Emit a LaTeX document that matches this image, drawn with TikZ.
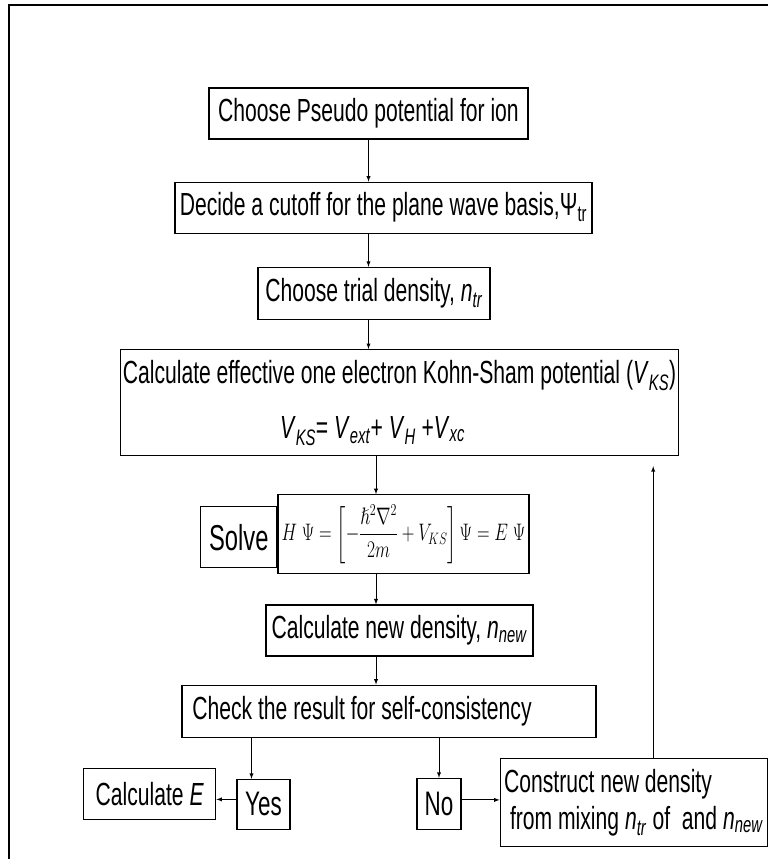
\documentclass[tikz,border=0pt]{standalone}
\usepackage{amsmath}
\usepackage{amssymb}
\usepackage{graphicx}
\usepackage{fontspec}
\setmainfont{Liberation Sans}[FakeStretch=0.66]
\usepackage{tikz}
\usetikzlibrary{arrows, positioning, calc}
\tikzstyle{arrow} = [->,>=latex, line width=0.9pt]
\tikzstyle{process} = [rectangle, minimum height=51pt, text centered, draw=black, line width=1.2pt, inner sep=2pt, font=\fontsize{32}{37}\selectfont]
\tikzstyle{answer} = [process, font=\fontsize{34}{38}\selectfont]
\newcommand{\ksv}[2]{\textit{#1}\textsubscript{\textit{#2}}}

\begin{document}
\begin{tikzpicture}
    \useasboundingbox (0pt,0pt) rectangle (768pt,-859pt);
    % Marco
    \draw [line width=1.2pt] (9pt,-859pt) -- (9pt,-5pt) -- (768pt,-5pt);

    % Pasos
    \node (choose) [process, minimum width=319pt] at (368.5pt,-113.5pt) {Choose Pseudo potential for ion};
    \node (cutoff) [process, minimum width=417pt, below=42pt of choose, xshift=15pt] {Decide a cutoff for the plane wave basis,Ψ\textsubscript{tr}};
    \node (trial) [process, minimum width=232pt, minimum height=52pt, below=33pt of cutoff, xshift=-9.5pt] {Choose trial density, \ksv{n}{tr}};
    \node (ks) [process, minimum width=557pt, minimum height=106pt, align=center, below=29pt of trial, xshift=25.5pt] {Calculate effective one electron Kohn-Sham potential (\ksv{V}{KS})\\[18pt] \ksv{V}{KS}= \ksv{V}{ext}+ \ksv{V}{H} +\ksv{V}{xc}\hspace*{54pt}};
    \node (eq) [process, minimum width=251pt, minimum height=79pt, inner sep=1pt, below=38pt of ks, xshift=4pt, font=\fontsize{20.74}{25}\selectfont] {\scalebox{0.84}[1.15]{$H\;\Psi = \left[-\dfrac{\hslash^2\nabla^2}{2m}+V_{KS}\right]\Psi = E\;\Psi$}};
    \node (solve) [process, minimum width=76pt, minimum height=61pt, left=0pt of eq, yshift=-3pt, font=\fontsize{36}{40}\selectfont] {Solve};
    \node (newden) [process, minimum width=267pt, below=30pt of eq, xshift=-4pt] {Calculate new density, \ksv{n}{new}};
    \node (check) [process, minimum width=414pt, minimum height=52pt, below=28pt of newden, xshift=-10.5pt] {Check the result for self-consistency\hspace*{54pt}};

    % Salidas
    \node (yes) [answer, minimum width=53pt, minimum height=50pt, below=41pt of check, xshift=-125.5pt] {Yes};
    \node (no) [answer, minimum width=44pt, below=40pt of check, xshift=50pt] {No};
    \node (energy) [process, minimum width=132pt, left=20pt of yes, yshift=10.5pt] {Calculate \textit{E}};
    \node (mix) [process, minimum width=267pt, minimum height=88pt, align=left, right=38pt of no, yshift=1.5pt] {Construct new density\\ \ from mixing \ksv{n}{tr} of \ and \ksv{n}{new}};

    % Flechas
    \coordinate (spine) at ([xshift=7.5pt]choose.south);
    \draw [arrow] (choose.south) -- (choose.south |- cutoff.north);
    \draw [arrow] (choose.south |- cutoff.south) -- (choose.south |- trial.north);
    \draw [arrow] (choose.south |- trial.south) -- (choose.south |- ks.north);
    \draw [arrow] (spine |- ks.south) -- (spine |- eq.north);
    \draw [arrow] (spine |- eq.south) -- (spine |- newden.north);
    \draw [arrow] (spine |- newden.south) -- (spine |- check.north);
    \coordinate (yestop) at ([xshift=-12pt]yes.north);
    \draw [arrow] (yestop |- check.south) -- (yestop);
    \draw [arrow] (no.north |- check.south) -- (no.north);
    \coordinate (yesleft) at ([yshift=5pt]yes.west);
    \draw [arrow] (yesleft) -- (yesleft -| energy.east);
    \coordinate (noright) at ([yshift=4pt]no.east);
    \draw [arrow] (noright) -- (noright -| mix.west);
    \coordinate (back) at ([xshift=19.5pt]mix.north);
    \draw [arrow] (back) -- ($(back |- ks.south)+(0,-10pt)$);
\end{tikzpicture}
\end{document}
